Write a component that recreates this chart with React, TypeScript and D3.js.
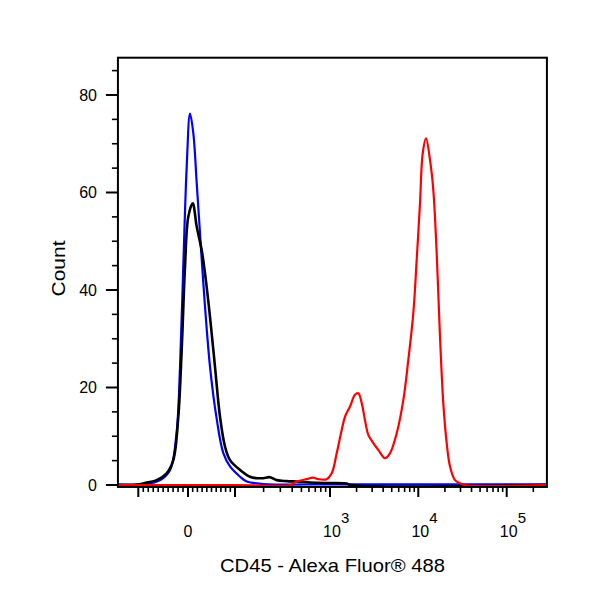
import React from 'react'
import * as d3 from 'd3'

type Pt = [number, number]

// fluorescence intensity, count
const isotypeBlue: Pt[] = [
    [-257, 0.12], [-100, 0.12], [-70, 0.5], [-56, 1.0], [-36, 3.1], [-23, 10.7], [-16, 24.3],
    [-9.5, 44.8], [-2.6, 65.3], [4.3, 76.2], [11.3, 72.2], [18.5, 62], [25.5, 51.7],
    [32.6, 41.4], [46.8, 24.3], [61, 13.6], [75, 6.6], [89.4, 3.8], [113, 1.7], [133, 0.7],
    [200, 0.2], [1000, 0.12], [10000, 0.12], [100000, 0.12], [285000, 0.12],
]

const unstainedBlack: Pt[] = [
    [-257, 0], [-100, 0.1], [-83, 0.5], [-63, 1.0], [-43, 2.4], [-29.6, 5.1], [-19.5, 14.0],
    [-12.7, 27.7], [-6, 44.8], [0.6, 55], [10, 57.8], [18.5, 53], [29.1, 48.2], [36.2, 43.4],
    [46.8, 34.5], [57.4, 24.3], [68.1, 14.0], [78.7, 7.9], [89.4, 5.1], [113, 3.1], [144, 1.7],
    [169, 1.4], [198, 1.4], [233, 1.6], [275, 1.0], [350, 0.8], [447, 0.7], [617, 0.5],
    [1000, 0.4], [1414, 0.35], [1546, 0.3], [1700, 0], [285000, 0],
]

const cd45Red: Pt[] = [
    [-257, 0], [100, 0], [379, 0], [447, 0.7], [569, 1.2], [667, 1.5], [753, 1.2], [923, 1.2],
    [1045, 2.4], [1191, 6.5], [1357, 11.3], [1479, 14.0], [1685, 16.1], [1918, 18.5],
    [2092, 18.8], [2286, 16.8], [2490, 13.3], [2716, 10.3], [3093, 8.6], [3523, 7.2],
    [4190, 5.5], [4774, 6.5], [5693, 10.6], [6766, 17.4], [7702, 25.6], [8777, 35.2],
    [9591, 46.2], [10453, 57.8], [11214, 68], [12222, 71.1], [13565, 66.7], [14786, 60.5],
    [16150, 47.5], [17599, 30.4], [19180, 16.8], [20955, 8.6], [22840, 3.8], [26010, 1.0],
    [29620, 0.35], [33000, 0], [285000, 0],
]

const yMajor = [0, 20, 40, 60, 80]
const yMinor = [5, 10, 15, 25, 30, 35, 45, 50, 55, 65, 70, 75, 85]
const xMajor = [-100, 0, 100, 1000, 10000, 100000]
const xMinor = [
    -90, -80, -70, -60, -50, -40, -30, -20, -10, 10, 20, 30, 40, 50, 60, 70, 80, 90,
    200, 300, 400, 500, 600, 700, 800, 900,
    2000, 3000, 4000, 5000, 6000, 7000, 8000, 9000,
    20000, 30000, 40000, 50000, 60000, 70000, 80000, 90000,
    200000,
]
const xLabels = [
    { v: 0, base: '0', exp: '' },
    { v: 1000, base: '10', exp: '3' },
    { v: 10000, base: '10', exp: '4' },
    { v: 100000, base: '10', exp: '5' },
]

const xMin = -257
const xMax = 285000
const yTop = 87.65
const yFloor = -0.4

// biex-like transform: linear inside +-100, log decades outside
const biex = (v: number) =>
    Math.abs(v) <= 100 ? v / 100 : Math.sign(v) * (1 + Math.log10(Math.abs(v) / 100))

const font = '"Liberation Sans", Arial, sans-serif'

export default function App() {
    const tx = d3.scaleLinear()
        .domain([-1, 0, 1, 2, 3, 4])
        .range([138.3, 188, 235, 330, 418.3, 506.7])
    const x = (v: number) => tx(biex(v))
    const y = d3.scaleLinear().domain([0, yTop]).range([485, 57.7])

    const line = d3.line<Pt>()
        .x(d => x(d[0]))
        .y(d => y(d[1]))
        .curve(d3.curveCatmullRom.alpha(0.5))

    const left = x(xMin)
    const right = x(xMax)
    const top = y(yTop)
    const bottom = y(yFloor)

    return (
        <svg width={600} height={600}
            style={{ position: 'absolute', left: 0, top: 0, background: '#fff' }}
            fontFamily={font}>
            <defs>
                <clipPath id='plotArea'>
                    <rect x={left} y={top} width={right - left} height={bottom - top} />
                </clipPath>
            </defs>

            <g clipPath='url(#plotArea)' fill='none' strokeLinejoin='round'>
                <path d={line(isotypeBlue) ?? ''} stroke='#0000ff' strokeWidth={2.2} />
                <path d={line(unstainedBlack) ?? ''} stroke='#000' strokeWidth={2.6} />
                <path d={line(cd45Red) ?? ''} stroke='#ff0000' strokeWidth={2.2} />
            </g>

            <rect x={left} y={top} width={right - left} height={bottom - top}
                fill='none' stroke='#000' strokeWidth={2} />

            {/* y axis */}
            {yMajor.map(t => (
                <g key={'ym' + t}>
                    <line x1={left - 12} x2={left} y1={y(t)} y2={y(t)} stroke='#000' strokeWidth={2} />
                    <text x={97} y={y(t)} dy='0.35em' textAnchor='end' fontSize={16}>{t}</text>
                </g>
            ))}
            {yMinor.map(t => (
                <line key={'yn' + t} x1={left - 6} x2={left} y1={y(t)} y2={y(t)} stroke='#000' strokeWidth={1.6} />
            ))}

            {/* x axis */}
            {xMajor.map(t => (
                <line key={'xm' + t} x1={x(t)} x2={x(t)} y1={bottom} y2={bottom + 10} stroke='#000' strokeWidth={2} />
            ))}
            {xMinor.map(t => (
                <line key={'xn' + t} x1={x(t)} x2={x(t)} y1={bottom} y2={bottom + 5} stroke='#000' strokeWidth={1.6} />
            ))}
            {xLabels.map(l => (
                <g key={'xl' + l.v}>
                    <text x={x(l.v) + (l.exp ? 2 : 0)} y={537} textAnchor='middle' fontSize={16}>{l.base}</text>
                    {l.exp && <text x={x(l.v) + 11} y={523} fontSize={15}>{l.exp}</text>}
                </g>
            ))}

            <text x={332.5} y={572} textAnchor='middle' fontSize={19} textLength={225}
                lengthAdjust='spacingAndGlyphs'>CD45 - Alexa Fluor® 488</text>
            <text transform='translate(65,268.5) rotate(-90)' textAnchor='middle' fontSize={19}
                textLength={56} lengthAdjust='spacingAndGlyphs'>Count</text>
        </svg>
    )
}
